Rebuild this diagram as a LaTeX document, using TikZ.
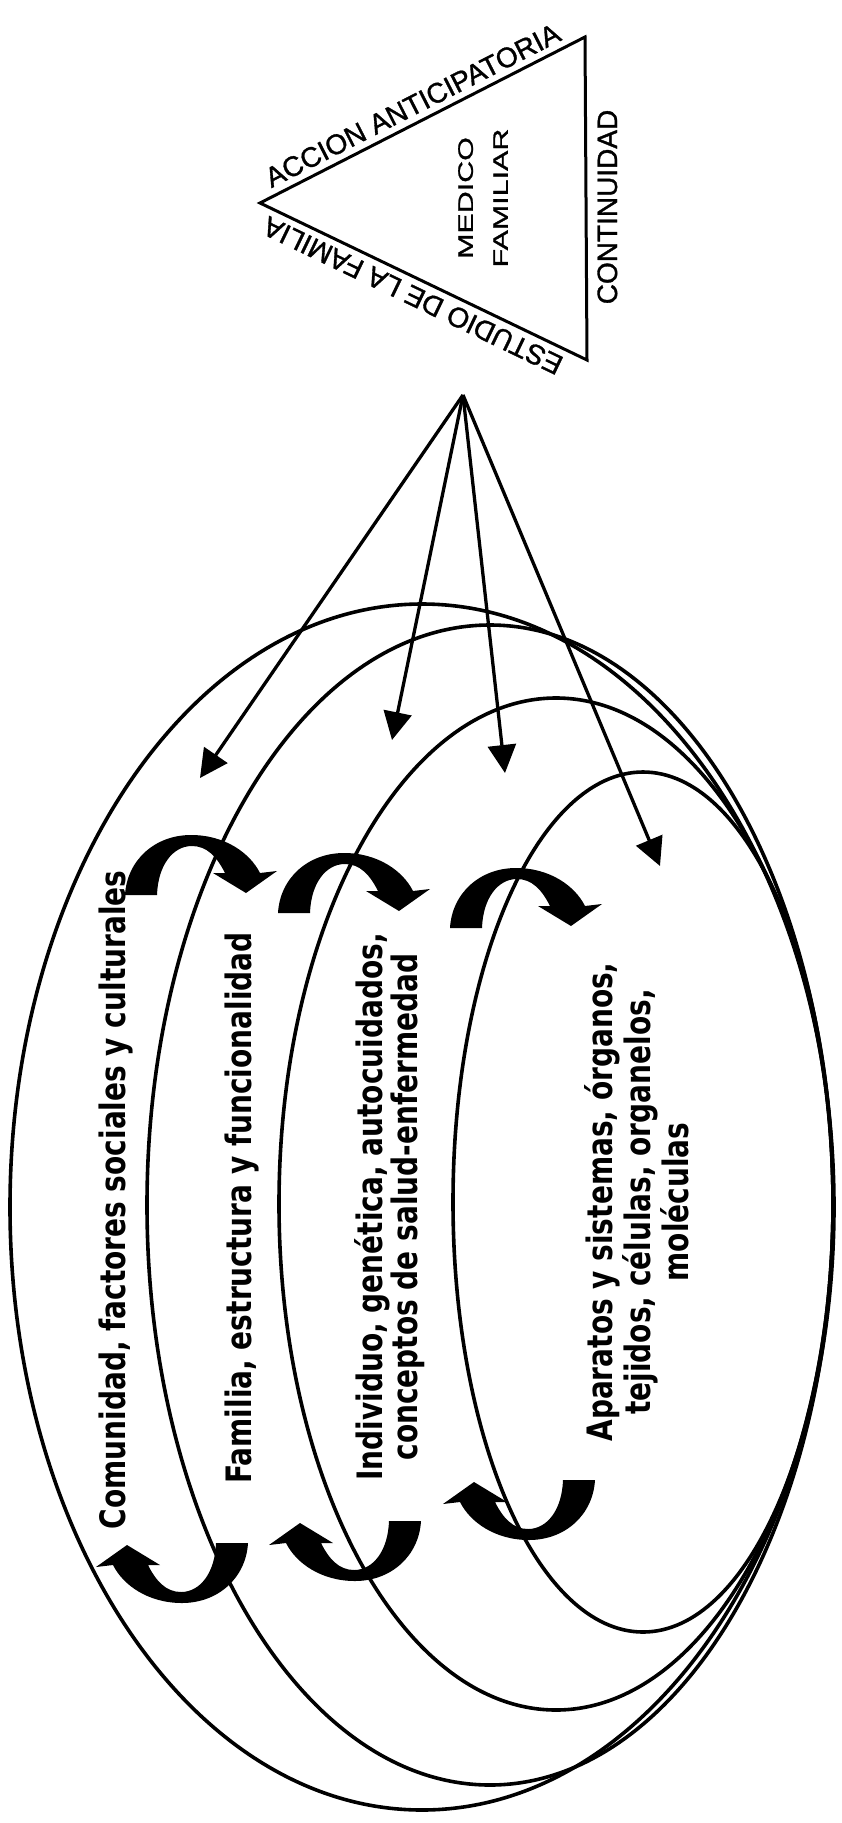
\documentclass[tikz,border=0pt]{standalone}
\usepackage{fontspec}
\usepackage{tikz}
\usetikzlibrary{arrows.meta}
\newfontfamily\layerfont{DejaVu Sans}[FakeStretch=0.8]
\newfontfamily\trifont{Liberation Sans}[FakeBold=1.2]
\newfontfamily\docfont{Liberation Sans}[FakeStretch=1.45, FakeBold=1.2]

\begin{document}
\begin{tikzpicture}[x=1pt, y=-1pt,
  ring/.style={line width=3.6pt},
  probe/.style={line width=3.3pt, -{Triangle[length=28pt, width=28pt]}},
  layer/.style={font=\layerfont\bfseries\fontsize{35}{33}\selectfont,
    inner sep=0pt, align=center},
  side/.style={font=\trifont\fontsize{28}{30}\selectfont, inner sep=0pt},
  curl/.pic={\fill (0,0) .. controls (2,-35) and (30,-60) .. (66,-60)
    .. controls (100,-60) and (125,-42) .. (135,-22) -- (152,-24) -- (121,-2)
    -- (88,-22) -- (100,-22) .. controls (92,-38) and (82,-49) .. (67,-49)
    .. controls (48,-49) and (33,-30) .. (32,0) -- cycle;}]
\useasboundingbox (0,0) rectangle (842,1823);
% ---- rings ----
\draw[ring] (422,1207) ellipse [x radius=412, y radius=603]; % comunidad
\draw[ring] (490,1205) ellipse [x radius=343, y radius=580]; % familia
\draw[ring] (556,1204) ellipse [x radius=277, y radius=506]; % individuo
\draw[ring] (643,1202) ellipse [x radius=190, y radius=430]; % aparatos
% ---- layer texts ----
\node[layer, rotate=90, anchor=base] (comunidad) at (125,1200)
  {Comunidad, factores sociales y culturales};
\node[layer, rotate=90, anchor=base] (familia) at (251,1208)
  {Familia, estructura y funcionalidad};
\node[layer, rotate=90] (individuo) at (390,1207)
  {Individuo, genética, autocuidados,\\ conceptos de salud-enfermedad};
\node[layer, rotate=90, font=\layerfont\bfseries\fontsize{35}{38}\selectfont]
  (aparatos) at (637,1202)
  {Aparatos y sistemas, órganos,\\ tejidos, células, organelos,\\ moléculas};
% ---- curls between layers ----
\pic at (125,895) {curl};
\pic at (278,913) {curl};
\pic at (450,928) {curl};
\pic[rotate=180] at (248,1543) {curl};
\pic[rotate=180] at (421,1521) {curl};
\pic[rotate=180] at (595,1480) {curl};
% ---- triangle ----
\coordinate (tl) at (260,203);
\coordinate (tt) at (585,37);
\coordinate (tb) at (587,360);
\draw[line width=3pt] (tl) -- (tt) -- (tb) -- cycle;
\node[side, rotate=27, anchor=base] (accion) at (417,114) {ACCION ANTICIPATORIA};
\node[side, rotate=90, anchor=base] (continuidad) at (617,207) {CONTINUIDAD};
\node[side, rotate=154.3, anchor=base] (estudio) at (417,287) {ESTUDIO DE LA FAMILIA};
\node[inner sep=0pt, align=center, rotate=90,
  font=\docfont\fontsize{21}{35}\selectfont] (medico) at (483,198)
  {MEDICO\\ FAMILIAR};
% ---- arrows ----
\coordinate (apex) at (463,395);
\coordinate (toComunidad) at (200,778);
\coordinate (toFamilia) at (392,740);
\coordinate (toIndividuo) at (505,773);
\coordinate (toAparatos) at (660,866);
\draw[probe] (apex) -- (toComunidad);
\draw[probe] (apex) -- (toFamilia);
\draw[probe] (apex) -- (toIndividuo);
\draw[probe] (apex) -- (toAparatos);
\end{tikzpicture}
\end{document}
